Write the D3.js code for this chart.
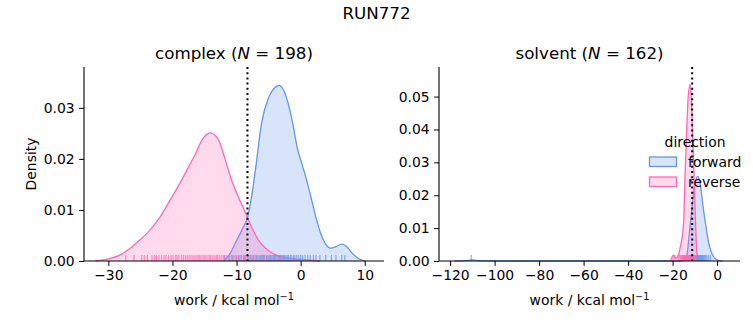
<!DOCTYPE html>
<html>
<head>
<meta charset="utf-8">
<script src="https://cdn.jsdelivr.net/npm/d3@7"></script>
<style>
  body { margin: 0; background: #fff; }
  svg { display: block; font-family: "DejaVu Sans", sans-serif; }
</style>
</head>
<body>
<script>
// --- data ---
const directions = ["forward", "reverse"];
const phases = ["complex", "solvent"];
const counts = [198, 162];
const dgLines = [-8.3, -11.2];

// KDE curves, [work, density]
const complexForward = [[-12,0],[-11,0.0015],[-10,0.004],[-9,0.0065],[-8.3,0.0085],[-7.6,0.013],[-7,0.0184],[-6.1,0.027],[-5,0.032],[-4,0.034],[-3.3,0.0344],[-2.5,0.033],[-1.4,0.028],[-0.5,0.022],[0.2,0.019],[1,0.0155],[1.7,0.012],[2.4,0.0085],[3.1,0.0055],[3.8,0.0035],[4.7,0.0025],[5.5,0.0028],[6.4,0.0033],[7.2,0.0028],[8,0.0016],[9,0.0005],[10,0]];
const complexReverse = [[-32,0],[-30,0.0004],[-28,0.0013],[-26.4,0.0027],[-25,0.0042],[-23.7,0.0058],[-22,0.0085],[-20.1,0.0125],[-18.5,0.016],[-17.5,0.0184],[-16.4,0.021],[-15.4,0.0237],[-14.1,0.0251],[-13.5,0.0248],[-12.8,0.0237],[-11.8,0.02],[-10.8,0.0159],[-9.7,0.0125],[-8.6,0.0094],[-7.6,0.0065],[-6.6,0.0041],[-5.2,0.0022],[-3.9,0.0012],[-2,0.0006],[0,0.0003],[2,0.0001],[3,0]];
const solventForward = [[-118,0],[-113,0.0001],[-110,0.0003],[-107,0.0001],[-100,0],[-16,0],[-14.5,0.0008],[-13.6,0.0018],[-12.1,0.011],[-11,0.018],[-10,0.0235],[-8.7,0.0257],[-7.5,0.023],[-6.2,0.016],[-5,0.0105],[-3.9,0.0059],[-2.5,0.0025],[-0.9,0.0008],[1,0.0001],[2.5,0]];
const solventReverse = [[-21,0],[-19.6,0.0018],[-18.6,0.0008],[-17.5,0.0015],[-16.6,0.004],[-15.1,0.011],[-14.4,0.026],[-13.6,0.041],[-12.9,0.0506],[-12.1,0.0537],[-11.4,0.0466],[-10.6,0.031],[-9.9,0.016],[-9.1,0.0028],[-8.3,0]];

// rug samples
const complexForwardRug = [-11.9,-11.2,-10.6,-10.1,-9.7,-9.3,-8.9,-8.6,-8.2,-7.9,-7.6,-7.3,-7.0,-6.8,-6.5,-6.3,-6.0,-5.8,-5.6,-5.3,-5.1,-4.9,-4.7,-4.5,-4.3,-4.1,-3.9,-3.7,-3.5,-3.3,-3.1,-2.9,-2.7,-2.5,-2.3,-2.1,-1.9,-1.6,-1.4,-1.1,-0.9,-0.6,-0.3,0.0,0.3,0.7,1.1,1.5,2.0,2.4,3.0,3.9,4.8,5.5,6.4,6.9];
const complexReverseRug = [-27.3,-26.0,-24.8,-24.4,-23.9,-23.2,-22.8,-22.5,-22.1,-21.7,-21.3,-21.0,-20.6,-20.2,-19.9,-19.5,-19.3,-19.0,-18.6,-18.3,-18.0,-17.7,-17.4,-17.1,-16.8,-16.5,-16.2,-15.9,-15.7,-15.4,-15.1,-14.9,-14.6,-14.3,-14.1,-13.8,-13.5,-13.2,-13.0,-12.7,-12.4,-12.1,-11.8,-11.5,-11.1,-10.8,-10.4,-10.0,-9.6,-9.2,-8.8,-8.3,-7.9,-7.4,-6.8,-6.1,-5.3,-4.2,-3.1];
const solventForwardRug = [-110.5,-13.2,-12.6,-12.0,-11.5,-11.0,-10.6,-10.2,-9.8,-9.5,-9.2,-8.9,-8.6,-8.3,-8.0,-7.7,-7.4,-7.1,-6.8,-6.5,-6.1,-5.7,-5.2,-4.6,-3.9,-3.0];
const solventReverseRug = [-19.8,-18.9,-17.6,-17.0,-16.5,-16.1,-15.8,-15.5,-15.2,-14.9,-14.7,-14.5,-14.3,-14.1,-13.9,-13.7,-13.5,-13.3,-13.1,-12.9,-12.7,-12.5,-12.3,-12.1,-11.9,-11.7,-11.5,-11.3,-11.0,-10.7,-10.4,-10.0,-9.5];

const complexXTicks = [-30, -20, -10, 0, 10];
const complexYTicks = [0, 0.01, 0.02, 0.03];
const solventXTicks = [-120, -100, -80, -60, -40, -20, 0];
const solventYTicks = [0, 0.01, 0.02, 0.03, 0.04, 0.05];

// --- layout ---
const width = 753, height = 325;
const plotTop = 67, plotBottom = 261;
const colors = {forward: "#6495ed", reverse: "#ff69b4"};
const fs = 13.9;

const panels = [
  {phase: phases[0], n: counts[0], dg: dgLines[0], left: 84, right: 384, xdom: [-33.8, 13], ymax: 0.038,
   curves: {forward: complexForward, reverse: complexReverse}, rugs: {forward: complexForwardRug, reverse: complexReverseRug},
   xticks: complexXTicks, yticks: complexYTicks, ylabel: true},
  {phase: phases[1], n: counts[1], dg: dgLines[1], left: 439, right: 740, xdom: [-125, 10.3], ymax: 0.059,
   curves: {forward: solventForward, reverse: solventReverse}, rugs: {forward: solventForwardRug, reverse: solventReverseRug},
   xticks: solventXTicks, yticks: solventYTicks, ylabel: false}
];

const svg = d3.select("body").append("svg")
    .attr("width", width)
    .attr("height", height)
    .style("font-size", fs + "px");

svg.append("text")
    .attr("x", 376.5)
    .attr("y", 18.5)
    .attr("text-anchor", "middle")
    .style("font-size", "16.7px")
    .text("RUN772");

const fmt = d3.format(".2f");

panels.forEach(p => {
  const x = d3.scaleLinear().domain(p.xdom).range([p.left, p.right]);
  const y = d3.scaleLinear().domain([0, p.ymax]).range([plotBottom, plotTop]);
  const g = svg.append("g");

  const area = d3.area().x(d => x(d[0])).y0(y(0)).y1(d => y(d[1])).curve(d3.curveMonotoneX);
  const line = d3.line().x(d => x(d[0])).y(d => y(d[1])).curve(d3.curveMonotoneX);

  directions.forEach(dir => {
    g.append("path")
        .datum(p.curves[dir])
        .attr("d", area)
        .attr("fill", colors[dir])
        .attr("fill-opacity", 0.25);
    g.append("path")
        .datum(p.curves[dir])
        .attr("d", line)
        .attr("fill", "none")
        .attr("stroke", colors[dir])
        .attr("stroke-width", 1.3);
  });

  // rugs
  directions.forEach(dir => {
    g.append("g").selectAll("line")
      .data(p.rugs[dir])
      .join("line")
        .attr("x1", d => x(d)).attr("x2", d => x(d))
        .attr("y1", plotBottom).attr("y2", plotBottom - 6)
        .attr("stroke", colors[dir])
        .attr("stroke-opacity", 0.75)
        .attr("stroke-width", 1.2);
  });

  // dotted line
  g.append("line")
      .attr("x1", x(p.dg)).attr("x2", x(p.dg))
      .attr("y1", plotTop).attr("y2", plotBottom)
      .attr("stroke", "#000")
      .attr("stroke-width", 2)
      .attr("stroke-dasharray", "2,3.2");

  // axes
  const xAxis = d3.axisBottom(x).tickValues(p.xticks).tickSize(4.9).tickPadding(4.5).tickFormat(d3.format("d"));
  const yAxis = d3.axisLeft(y).tickValues(p.yticks).tickSize(4.9).tickPadding(4.5).tickFormat(fmt);

  g.append("g")
      .attr("transform", `translate(0,${plotBottom})`)
      .call(xAxis)
      .call(a => a.select(".domain").attr("d", `M${p.left},0H${p.right}`).attr("stroke-width", 1.1))
      .call(a => a.selectAll("text").style("font-size", fs + "px").style("font-family", "DejaVu Sans").attr("fill", "#000"));
  g.append("g")
      .attr("transform", `translate(${p.left},0)`)
      .call(yAxis)
      .call(a => a.select(".domain").attr("d", `M0,${plotTop}V${plotBottom}`).attr("stroke-width", 1.1))
      .call(a => a.selectAll("text").style("font-size", fs + "px").style("font-family", "DejaVu Sans").attr("fill", "#000"));

  // title
  const t = g.append("text")
      .attr("x", (p.left + p.right) / 2)
      .attr("y", 58.7)
      .attr("text-anchor", "middle")
      .style("font-size", "16.7px");
  t.append("tspan").text(p.phase + " (");
  t.append("tspan").style("font-style", "italic").text("N");
  t.append("tspan").text(" = " + p.n + ")");

  // x label
  const xl = g.append("text")
      .attr("x", (p.left + p.right) / 2)
      .attr("y", 305)
      .attr("text-anchor", "middle");
  xl.append("tspan").text("work / kcal mol");
  xl.append("tspan").attr("dy", -5).style("font-size", "9.7px").text("\u22121");

  if (p.ylabel) {
    g.append("text")
        .attr("transform", `translate(36,${(plotTop + plotBottom) / 2}) rotate(-90)`)
        .attr("text-anchor", "middle")
        .text("Density");
  }
});

// legend
const legend = svg.append("g");
legend.append("text")
    .attr("x", 695)
    .attr("y", 147)
    .attr("text-anchor", "middle")
    .text("direction");
directions.forEach((dir, i) => {
  const yy = 157 + i * 20;
  legend.append("rect")
      .attr("x", 649.5).attr("y", yy)
      .attr("width", 27).attr("height", 9.5)
      .attr("fill", colors[dir]).attr("fill-opacity", 0.25)
      .attr("stroke", colors[dir]).attr("stroke-width", 1.3);
  legend.append("text")
      .attr("x", 688)
      .attr("y", yy + 10)
      .text(dir);
});
</script>
</body>
</html>
